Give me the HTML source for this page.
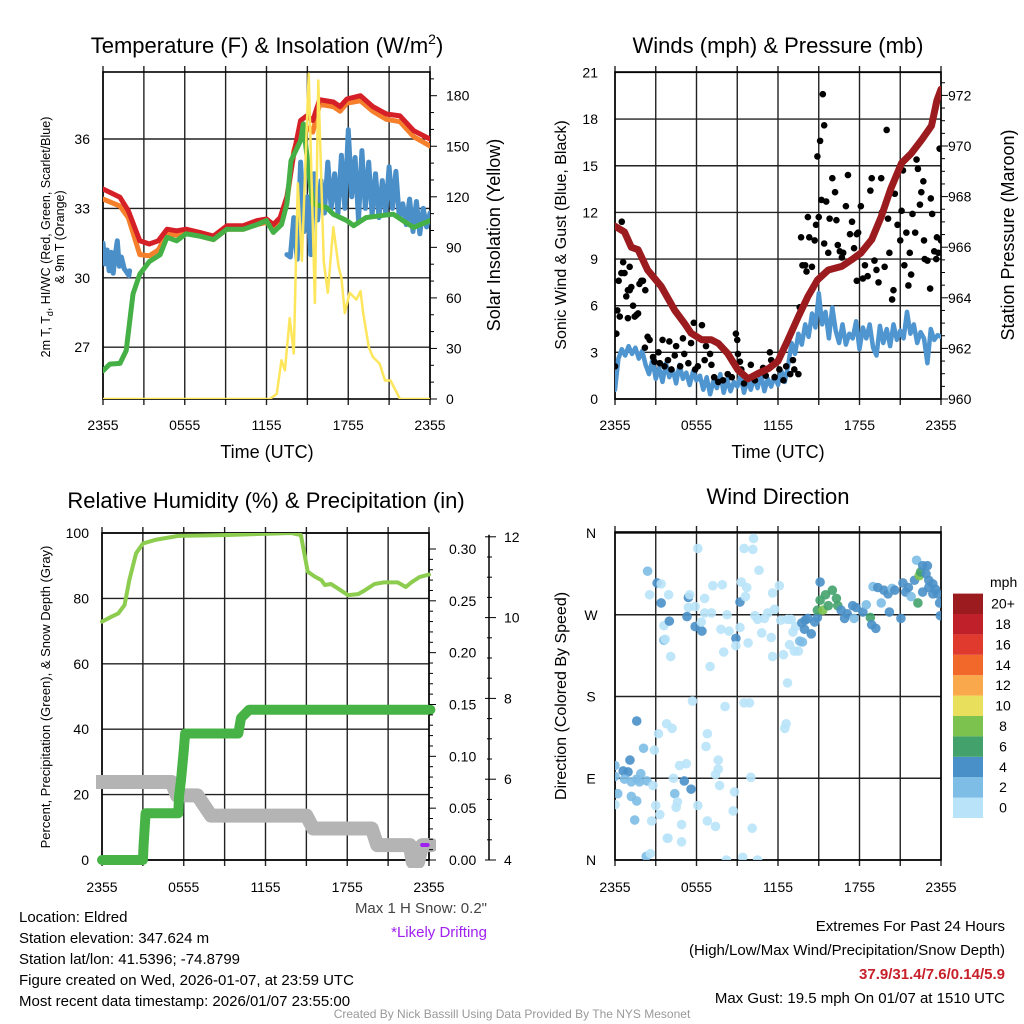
<!DOCTYPE html>
<html><head><meta charset="utf-8">
<style>
html,body{margin:0;padding:0;background:#fff;}
svg{display:block;font-family:"Liberation Sans",Arial,sans-serif;}
</style></head>
<body>
<svg id="fig" width="1024" height="1024" viewBox="0 0 1024 1024" xmlns="http://www.w3.org/2000/svg">
<defs>
<clipPath id="c1"><rect x="103" y="72" width="327" height="327"/></clipPath>
<clipPath id="c2"><rect x="615" y="72" width="326" height="327"/></clipPath>
<clipPath id="c3"><rect x="96" y="533" width="340" height="335"/></clipPath>
<clipPath id="c4"><rect x="615" y="532" width="326" height="328"/></clipPath>
</defs>
<g font-size="22" fill="#000" text-anchor="middle">
<text x="267" y="53">Temperature (F) &amp; Insolation (W/m<tspan font-size="14" dy="-9">2</tspan><tspan dy="9">)</tspan></text>
<text x="778" y="53">Winds (mph) &amp; Pressure (mb)</text>
<text x="266" y="508">Relative Humidity (%) &amp; Precipitation (in)</text>
<text x="778" y="504">Wind Direction</text>
</g>
<g font-size="18" text-anchor="middle">
<text x="267" y="458">Time (UTC)</text>
<text x="778" y="458">Time (UTC)</text>
<text transform="translate(500,235) rotate(-90)">Solar Insolation (Yellow)</text>
<text transform="translate(1014,235) rotate(-90)">Station Pressure (Maroon)</text>
</g>
<g font-size="16" text-anchor="middle">
<text transform="translate(566,235) rotate(-90)">Sonic Wind &amp; Gust (Blue, Black)</text>
<text transform="translate(566,696) rotate(-90)">Direction (Colored By Speed)</text>
</g>
<g font-size="12.5" text-anchor="middle">
<text transform="translate(50,237) rotate(-90)">2m T, T<tspan font-size="9" dy="3">d</tspan><tspan dy="-3">, HI/WC (Red, Green, Scarlet/Blue)</tspan></text>
<text transform="translate(64,237) rotate(-90)">&amp; 9m T (Orange)</text>
<text font-size="13" transform="translate(50,697) rotate(-90)">Percent, Precipitation (Green), &amp; Snow Depth (Gray)</text>
</g>
<g font-size="15">
<text x="487" y="913" text-anchor="end" fill="#444">Max 1 H Snow: 0.2"</text>
<text x="487" y="937" text-anchor="end" fill="#a020f0">*Likely Drifting</text>
<text x="19" y="922">Location: Eldred</text>
<text x="19" y="943">Station elevation: 347.624 m</text>
<text x="19" y="964">Station lat/lon: 41.5396; -74.8799</text>
<text x="19" y="985">Figure created on Wed, 2026-01-07, at 23:59 UTC</text>
<text x="19" y="1006">Most recent data timestamp: 2026/01/07 23:55:00</text>
<text x="1005" y="931" text-anchor="end">Extremes For Past 24 Hours</text>
<text x="1005" y="955" text-anchor="end">(High/Low/Max Wind/Precipitation/Snow Depth)</text>
<text x="1005" y="979" text-anchor="end" fill="#c8202a" font-weight="bold">37.9/31.4/7.6/0.14/5.9</text>
<text x="1005" y="1003" text-anchor="end">Max Gust: 19.5 mph On 01/07 at 1510 UTC</text>
</g>
<text x="512" y="1018" font-size="12" fill="#999" text-anchor="middle">Created By Nick Bassill Using Data Provided By The NYS Mesonet</text>
<g id="plots"></g>
</svg>
<script>
// ---------- Panel 1: temperature & insolation ----------
const tempTimes = [0,1.25,1.86,2.7,3.4,4.06,4.7,5.4,6.1,7.1,8.1,9.1,10.3,11.3,12,12.5,13,13.5,14,14.5,14.95,15.4,15.9,16.9,17.4,17.9,18.9,19.8,20.8,21.8,22.8,24];
const tempRed = [33.84,33.48,32.9,31.6,31.46,31.6,32.1,32.03,32.1,31.96,31.8,32.25,32.25,32.47,32.54,32.3,32.6,33.5,35.35,36.8,37.0,36.8,37.7,37.6,37.4,37.73,37.87,37.4,37.08,37.0,36.36,36.0];
const tempOrange = [33.4,33.1,32.6,31.0,30.95,31.2,31.9,31.85,31.95,31.8,31.65,32.1,32.1,32.3,32.4,32.15,32.45,33.3,35.5,36.4,36.5,36.3,37.5,37.4,37.2,37.55,37.65,37.2,36.85,36.75,36.1,35.7];
const dewTimes = [0,0.5,1.25,1.7,2.2,2.7,3.4,4.2,4.7,5.4,6.1,7.1,8.1,9.1,10.3,11.3,12,12.5,13.1,13.5,13.8,14.5,14.7,15.1,15.4,16.4,16.9,17.9,18.4,19.3,20.3,21.3,22,22.8,24];
const dewVals = [25.98,26.27,26.3,26.85,29.3,30.16,30.7,31.0,31.75,31.6,31.9,31.8,31.65,32.1,32.1,32.3,32.47,31.96,32.3,33.2,35.06,35.93,36.65,34.6,33.2,33.04,32.75,32.47,32.25,32.6,32.68,32.75,32.47,32.18,32.47];
const wcTimes = [0,0.15,0.3,0.45,0.6,0.75,0.9,1.05,1.2,1.35,1.55,1.9,1.95,null,13.5,13.75,14,14.25,14.5,14.75,15,15.25,15.5,15.75,16,16.25,16.5,16.75,17,17.25,17.5,17.75,18,18.25,18.5,18.75,19,19.25,19.5,19.75,20,20.25,20.5,20.75,21,21.25,21.5,21.75,22,22.25,22.5,22.75,23,23.25,23.5,23.75,24];
const wcVals = [31.5,30.6,31.2,30.3,31.1,30.2,31.0,31.6,30.5,30.9,30.4,30.1,30.3,null,31.0,30.9,32.6,30.8,35.0,32.0,33.5,31.0,34.5,32.5,34.2,32.8,35.0,33.0,34.5,32.8,35.3,33.0,36.4,33.5,35.2,32.5,35.5,33.0,35.0,32.7,34.5,32.6,34.2,32.8,34.8,33.0,34.6,32.6,33.2,32.3,33.4,32.0,33.3,31.9,33.0,32.2,32.8];
const solarTimes = [0,12.25,12.75,13.1,13.35,13.7,14,14.3,14.6,14.8,15.1,15.55,15.8,16.2,16.5,16.9,17.3,17.5,17.75,18.1,18.6,18.9,19.1,19.5,19.8,20.3,20.7,21.1,21.8,24];
const solarVals = [0,0,3,23,17,48,27,128,82,126,193,57,189,82,63,102,78,72,51,63,59,64,51,31,25,21,11,11,0,0];
const tempTicks = [27,30,33,36];
const solarTicks = [0,30,60,90,120,150,180];
const timeTickLabels = ["2355","0555","1155","1755","2355"];
const timeTickHours = [0,6,12,18,24];

// ---------- Panel 2: winds & pressure ----------
const presTimes = [0,0.7,1.2,1.7,2.4,3.4,4.4,5.1,5.6,6.4,7.1,7.6,8.3,9.05,9.8,10.5,11.3,12,12.7,13.5,14.2,14.9,15.7,16.7,17.4,18.1,18.9,19.6,20.3,21.1,21.8,22.6,23.3,23.7,24];
const presVals = [966.83,966.6,966.0,965.9,965.1,964.45,963.5,963.0,962.6,962.34,962.34,962.2,961.8,961.15,960.8,961.0,961.2,961.5,962.3,963.26,964.05,964.7,965.1,965.24,965.5,965.77,966.3,967.2,968.3,969.33,969.7,970.26,970.8,971.8,972.24];
const windStep = 0.25;
const windVals = [0.6,2.6,3.2,2.8,3.4,2.9,3.3,2.6,3.1,
2.2,1.6,2.5,1.3,2.0,1.1,2.3,1.4,1.9,1.0,2.2,1.3,1.7,0.9,1.8,1.2,
1.5,0.6,1.4,0.3,1.2,0.7,1.6,0.4,1.3,0.5,1.1,0.8,1.5,0.4,1.2,0.6,1.4,0.7,1.6,0.5,1.3,0.8,1.5,
0.9,1.8,1.1,2.2,3.6,2.9,4.2,3.5,4.8,4.0,5.5,4.6,6.8,
4.8,5.6,3.9,5.9,4.4,3.6,4.8,3.5,4.2,3.9,5.0,3.2,4.6,3.9,4.8,3.3,2.8,4.7,3.6,4.5,3.4,4.8,3.8,4.4,3.9,5.6,4.2,4.8,3.6,4.3,3.9,2.3,4.5,3.8,4.1,4.0];
const gustTimes = [0,0.1,0.17,0.35,0.27,0.5,0.6,0.47,0.7,0.83,0.95,1.08,1.2,1.33,1.45,1.57,1.7,1.8,1.94,2.06,2.23,0.95,1.08,2.4,2.55,2.2,2.8,2.9,3.2,3.3,3.5,3.65,3.9,4.0,4.15,4.4,4.5,4.8,5.0,5.1,5.4,5.6,5.8,5.9,6.1,6.4,6.6,6.7,7.0,7.1,7.3,7.6,7.95,8.3,8.6,8.9,9.0,9.05,9.2,9.3,9.5,10.0,10.3,10.5,10.9,11.1,11.4,11.5,11.75,12.1,12.4,12.6,12.9,13.1,13.2,13.5,13.6,13.7,13.8,14.0,14.1,14.2,14.3,14.5,14.7,14.8,14.9,15.0,15.1,15.2,15.3,15.4,15.4,15.55,15.7,15.8,16.0,16.2,16.3,16.4,16.55,16.7,16.8,17.0,17.15,17.3,17.45,17.6,17.8,17.9,18.1,17.8,18.25,18.4,18.6,18.8,18.9,19.1,19.25,19.4,19.6,19.65,19.85,20.0,20.1,20.2,20.4,20.5,20.6,20.8,21.0,21.1,21.2,21.3,21.45,21.6,21.7,21.8,21.9,22.1,22.2,22.3,22.45,22.55,22.7,22.75,22.8,23.0,23.2,23.25,23.35,23.5,23.65,23.7,23.9,24,23.8];
const gustVals = [2.1,4.2,5.7,5.3,7.6,11.4,8.8,8.1,8.1,6.6,7.0,7.0,7.2,6.0,5.3,5.4,5.5,7.4,7.6,7.6,7.0,5.2,8.5,4.0,3.8,3.3,2.7,2.4,3.0,2.3,3.8,2.1,2.5,3.7,1.9,2.8,3.4,2.1,3.9,2.9,2.3,3.6,4.9,1.9,2.1,4.75,2.5,3.4,2.9,2.2,1.4,1.1,1.2,1.6,1.4,4.2,3.8,2.9,2.4,1.9,1.0,2.2,1.2,1.6,2.0,1.5,3.0,2.5,1.4,1.9,1.2,2.1,1.6,2.5,1.9,1.6,5.9,10.4,8.6,8.6,8.2,11.7,10.4,8.5,10.2,11.2,15.6,11.7,16.6,12.8,19.6,17.6,10.0,12.7,9.4,11.6,14.2,13.3,11.5,9.9,9.5,9.1,9.4,12.4,14.4,10.6,11.4,9.7,10.6,10.7,12.4,7.6,7.75,8.6,7.9,13.4,14.2,8.9,8.3,7.5,14.2,12.0,8.5,17.3,11.6,9.4,6.4,7.0,13.2,11.2,10.2,12.1,14.7,8.6,10.7,7.3,9.4,8.0,11.9,10.7,15.4,14.8,12.5,13.3,14.0,10.2,9.0,8.9,7.1,12.9,11.9,9.5,9.0,10.4,16.1,10.2,9.4];
const windTicks = [0,3,6,9,12,15,18,21];
const presTicks = [960,962,964,966,968,970,972];

// ---------- Panel 3: RH, precip, snow ----------
const rhTimes = [0,0.7,1.2,1.66,2.0,2.5,3.0,3.9,5.6,9.25,13.9,14.6,15.1,15.6,16.1,16.35,16.8,17.3,18.05,18.8,19.3,20.0,20.7,21.7,22.3,22.7,23.3,24];
const rhVals = [72.9,74.4,75.4,78,85.6,93.8,96.8,97.9,99.1,99.4,100,99.4,88.2,86.7,85.6,84.1,84.4,83.1,81.0,81.3,82.5,84.4,84.9,84.9,83.5,84.9,86.5,87.3];
const precipTimes = [0,3.0,3.05,3.2,5.6,5.65,5.8,6.0,6.1,10.0,10.2,10.8,24.1];
const precipVals = [0,0,0.0145,0.045,0.045,0.061,0.077,0.106,0.122,0.122,0.137,0.145,0.145];
const snowTimes = [-0.4,5.1,5.5,7.0,8.0,15.0,15.5,19.8,20.2,22.6,22.8,23.2,23.5,24.2];
const snowVals = [5.93,5.93,5.6,5.6,5.1,5.1,4.78,4.78,4.37,4.37,3.95,3.95,4.37,4.37];
const rhTicks = [0,20,40,60,80,100];
const precipTicks = ["0.00","0.05","0.10","0.15","0.20","0.25","0.30"];
const snowTicks = [4,6,8,10,12];

// ---------- Panel 4: wind direction ----------
const dirTimes = [0,0.6,0.96,0,0.7,1.2,1.8,1.9,1.6,0.2,1.2,1.6,0,1.45,2.35,2.8,2.7,3.0,3.3,3.85,4.9,4.9,4.4,5.1,5.6,4.6,4.5,4.3,4.75,5.25,2.9,2.1,1.6,1.1,3.2,3.8,4.2,5.7,6.1,6.8,7.4,6.8,6.7,7.6,7.6,7.4,7.7,8.1,8.8,8.7,9.5,9.9,10.0,10.1,8.2,9.4,10.5,2.3,2.6,3.9,12.5,12.6,12.7,
2.4,3.1,3.4,2.55,3.4,3.95,3.6,4.0,3.6,3.7,4.1,5.4,5.5,5.4,5.3,5.9,5.9,6.4,6.35,6.1,6.6,6.6,7.0,7.2,7.9,7.1,7.8,8.0,8.4,8.25,8.9,8.9,9.2,9.2,9.3,9.5,9.7,9.6,9.8,10.15,10.2,10.6,10.3,10.5,10.8,11.0,11.25,11.5,11.6,11.6,11.75,12.1,12.2,12.4,12.7,12.97,12.85,13.1,13.3,13.2,13.5,13.6,13.8,13.75,14.0,13.95,14.2,14.45,14.7,14.9,15.1,15.1,14.9,15.3,15.5,15.7,16.0,16.3,16.4,16.65,16.9,17.1,17.5,17.6,17.75,18.25,18.5,18.8,18.9,19.2,19.0,19.35,19.6,19.8,20.1,20.2,20.4,20.6,21.05,21.2,21.4,21.6,21.8,22.05,22.2,22.4,22.5,22.65,23.0,22.9,22.65,22.3,23.1,23.4,23.6,23.75,23.95,23.9,23.4,23.1];
const dirDeg = [104,98,97,92,89,86,86,95,89,73,70,65,61,44,87,82,43,60,50,24,20,39,73,87,78,64,58,90,104,106,121,123,153,110,139,150,145,175,60,43,37,139,125,110,100,94,82,169,75,54,173,173,91,35,0,3,0,4,7,24,145,150,195,
318,305,304,292,283,292,258,263,242,243,224,289,292,278,268,279,257,252,262,343,288,272,213,302,303,272,254,229,252,270,244,236,284,256,306,343,300,290,239,342,354,319,269,265,250,266,272,245,224,294,276,302,264,226,265,265,237,251,257,230,230,241,240,261,264,254,266,249,262,267,306,286,275,275,292,280,297,288,280,275,266,271,280,266,278,273,281,267,259,255,301,300,283,297,293,273,299,297,266,305,295,300,290,308,330,313,317,324,324,315,295,283,308,304,298,293,269,283,293,300];
const dirSpeed = [2,4,4,2,2,2,2,2,2,2,2,2,0,2,2,0,0,0,0,0,0,0,2,4,4,0,0,0,0,0,0,2,4,4,0,0,0,0,0,0,0,0,0,0,0,0,0,0,0,0,0,0,0,0,0,0,0,2,0,0,0,0,0,
2,4,0,0,4,0,0,4,2,0,0,4,0,0,4,0,4,4,0,0,0,0,0,0,0,0,0,0,0,0,4,0,4,0,0,0,0,0,0,0,0,0,0,0,0,0,0,0,0,0,0,0,0,0,0,0,0,0,0,0,0,2,2,4,4,4,4,4,4,4,4,6,6,8,6,6,6,6,6,4,4,4,4,2,4,4,2,6,4,4,2,4,2,4,4,4,2,4,4,4,4,4,2,4,2,8,6,4,4,4,4,6,4,4,4,4,4,4,4,4];
const speedLabels = ["0","2","4","6","8","10","12","14","16","18","20+"];
const speedColors = ["#b8e3f8","#7dbde6","#4a90c8","#43a26b","#7cc24e","#e8e05c","#f9a94b","#f2672a","#e03a2e","#c0202a","#9b1b1e"];
const dirLabels = ["N","E","S","W","N"];
const dirTickDeg = [0,90,180,270,360];

const NS = "http://www.w3.org/2000/svg";
const root = document.getElementById("plots");
function mk(tag, attrs, parent){
  const e = document.createElementNS(NS, tag);
  for (const k in attrs) e.setAttribute(k, attrs[k]);
  (parent || root).appendChild(e);
  return e;
}
function txt(s, x, y, anchor, size, parent){
  const t = mk("text", {x:x, y:y, "text-anchor":anchor, "font-size":size}, parent);
  t.textContent = s;
  return t;
}
function linePath(xs, ys, sx, sy){
  let d = "", pen = false;
  for (let i = 0; i < xs.length; i++){
    if (xs[i] === null || ys[i] === null){ pen = false; continue; }
    d += (pen ? "L" : "M") + sx(xs[i]).toFixed(1) + "," + sy(ys[i]).toFixed(1);
    pen = true;
  }
  return d;
}
function grid(g, x0, x1, y0, y1, vx, hy){
  vx.forEach(x => {
    const l = mk("line", {x1:x, x2:x, y1:y0 - 6, y2:y1 + 6, stroke:"#222", "stroke-width":1.4}, g);
    
    
  });
  hy.forEach(y => {
    const l = mk("line", {x1:x0, x2:x1, y1:y, y2:y, stroke:"#222", "stroke-width":1.4}, g);
    
    
  });
  const r = mk("rect", {x:x0, y:y0, width:x1 - x0, height:y1 - y0, fill:"none", stroke:"#000", "stroke-width":1.6}, g);
  
  
}
function timeLabels(g, sx, y){
  timeTickHours.forEach((h, i) => {
    const t = txt(timeTickLabels[i], sx(h), y, "middle", 14, g);
    
    
  });
}
function threeHourX(sx){ const a = []; for (let h = 0; h <= 24; h += 3) a.push(sx(h)); return a; }

// ===== Panel 1 =====
const X1 = t => 103 + t / 24 * 327;
const YT = v => 139 - (v - 36) * 23.13;
const YS = w => 399 - w * 1.685;
const g1 = mk("g", {});


grid(g1, 103, 430, 72, 399, threeHourX(X1), tempTicks.map(YT));
const l1 = mk("g", {"clip-path":"url(#c1)", fill:"none", "stroke-linejoin":"round", "stroke-linecap":"round"}, g1);
const pO = mk("path", {d:linePath(tempTimes, tempOrange, X1, YT), stroke:"#f57f2a", "stroke-width":5}, l1);


const pR = mk("path", {d:linePath(tempTimes, tempRed, X1, YT), stroke:"#d62027", "stroke-width":5}, l1);


const pB = mk("path", {d:linePath(wcTimes, wcVals, X1, YT), stroke:"#4a8fc8", "stroke-width":5}, l1);


const pG = mk("path", {d:linePath(dewTimes, dewVals, X1, YT), stroke:"#45b046", "stroke-width":5}, l1);


const pY = mk("path", {d:linePath(solarTimes, solarVals, X1, YS), stroke:"#fde65c", "stroke-width":2.5}, l1);


tempTicks.forEach(v => {
  const t = txt(String(v), 90, YT(v) + 5, "end", 14, g1);
  
  
});
solarTicks.forEach(v => {
  const t = txt(String(v), 446, YS(v) + 5, "start", 14, g1);
  
  
});
for (let v = 0; v <= 190; v += 10){
  const tk = mk("line", {x1:430, x2:v % 30 === 0 ? 437 : 434, y1:YS(v), y2:YS(v), stroke:"#000"}, g1);
  
  
}
timeLabels(g1, X1, 430);

// ===== Panel 2 =====
const X2 = t => 615 + t / 24 * 326;
const YW = m => 399 - m * 15.55;
const YP = p => 399 - (p - 960) * 25.3;
const g2 = mk("g", {});


grid(g2, 615, 941, 72, 399, threeHourX(X2), windTicks.map(YW));
const l2 = mk("g", {"clip-path":"url(#c2)", fill:"none", "stroke-linejoin":"round", "stroke-linecap":"round"}, g2);
const windT = windVals.map((v, i) => i * windStep);
const pW = mk("path", {d:linePath(windT, windVals, X2, YW), stroke:"#4f95d0", "stroke-width":4.5}, l2);


gustTimes.forEach((t, i) => {
  const c = mk("circle", {cx:X2(t), cy:YW(gustVals[i]), r:3.3, fill:"#000"}, l2);
  
  
});
const pP = mk("path", {d:linePath(presTimes, presVals, X2, YP), stroke:"#9b1b1e", "stroke-width":7}, l2);


windTicks.forEach(v => {
  const t = txt(String(v), 598, YW(v) + 5, "end", 14, g2);
  
  
});
presTicks.forEach(v => {
  const t = txt(String(v), 948, YP(v) + 5, "start", 14, g2);
  
  
});
for (let p = 960; p <= 972.6; p += 0.5){
  const tk = mk("line", {x1:941, x2:Math.abs(p - Math.round(p / 2) * 2) < 0.01 ? 948 : 945, y1:YP(p), y2:YP(p), stroke:"#000"}, g2);
  
  
}
timeLabels(g2, X2, 430);

// ===== Panel 3 =====
const X3 = t => 102 + t / 24 * 327;
const YR = r => 860 - r * 3.27;
const YPr = p => 860 - p * 1036.7;
const YSn = s => 860 - (s - 4) * 40.4;
const g3 = mk("g", {});


grid(g3, 102, 429, 533, 860, threeHourX(X3), rhTicks.map(YR));
const l3 = mk("g", {"clip-path":"url(#c3)", fill:"none", "stroke-linejoin":"round", "stroke-linecap":"round"}, g3);
const pRH = mk("path", {d:linePath(rhTimes, rhVals, X3, YR), stroke:"#8ccc4e", "stroke-width":4}, l3);


const pSn = mk("path", {d:linePath(snowTimes, snowVals, X3, YSn), stroke:"#b4b4b4", "stroke-width":14}, l3);


const pPr = mk("path", {d:linePath(precipTimes, precipVals, X3, YPr), stroke:"#47b347", "stroke-width":10}, l3);


const snowMark = mk("line", {x1:X3(23.5), x2:X3(23.9), y1:YSn(4.37), y2:YSn(4.37), stroke:"#a020f0", "stroke-width":4}, l3);


rhTicks.forEach(v => {
  const t = txt(String(v), 89, YR(v) + 5, "end", 14, g3);
  
  
});
precipTicks.forEach(v => {
  const t = txt(v, 449, YPr(parseFloat(v)) + 5, "start", 14, g3);
  
  
});
for (let p = 0; p <= 0.31; p += 0.01){
  const tk = mk("line", {x1:429, x2:(Math.round(p * 100) % 5 === 0) ? 436 : 433, y1:YPr(p), y2:YPr(p), stroke:"#000"}, g3);
  
  
}
const snowAxis = mk("line", {x1:489, x2:489, y1:YSn(12.05), y2:860, stroke:"#000", "stroke-width":1.5}, g3);


for (let s = 4; s <= 12.01; s += 0.5){
  const major = Math.abs(s - Math.round(s / 2) * 2) < 0.01;
  const tk = mk("line", {x1:major ? 485 : 487, x2:major ? 496 : 492, y1:YSn(s), y2:YSn(s), stroke:"#000"}, g3);
  
  
}
snowTicks.forEach(v => {
  const t = txt(String(v), 504, YSn(v) + 5, "start", 14, g3);
  
  
});
timeLabels(g3, X3, 892);

// ===== Panel 4 =====
const X4 = t => 615 + t / 24 * 326;
const YD = d => 860 - d * 0.9083;
const g4 = mk("g", {});


grid(g4, 615, 941, 532, 860, threeHourX(X4), dirTickDeg.map(YD));
const l4 = mk("g", {"clip-path":"url(#c4)"}, g4);
dirTimes.forEach((t, i) => {
  const c = mk("circle", {cx:X4(t), cy:YD(dirDeg[i]), r:4.8, fill:speedColors[dirSpeed[i] / 2], "fill-opacity":0.9}, l4);
  
  
});
dirTickDeg.forEach((d, i) => {
  const t = txt(dirLabels[i], 591, YD(d) + 5, "middle", 14, g4);
  
  
});
timeLabels(g4, X4, 892);
const cb = mk("g", {}, g4);


const cbTitle = txt("mph", 990, 587, "start", 14, cb);


speedColors.forEach((col, i) => {
  const y = 818 - (i + 1) * 20.4;
  const r = mk("rect", {x:953, y:y, width:30, height:20.4, fill:col}, cb);
  
  
  const t = txt(speedLabels[i], 1003, y + 15, "middle", 14, cb);
  
  
});
</script>
</body></html>
